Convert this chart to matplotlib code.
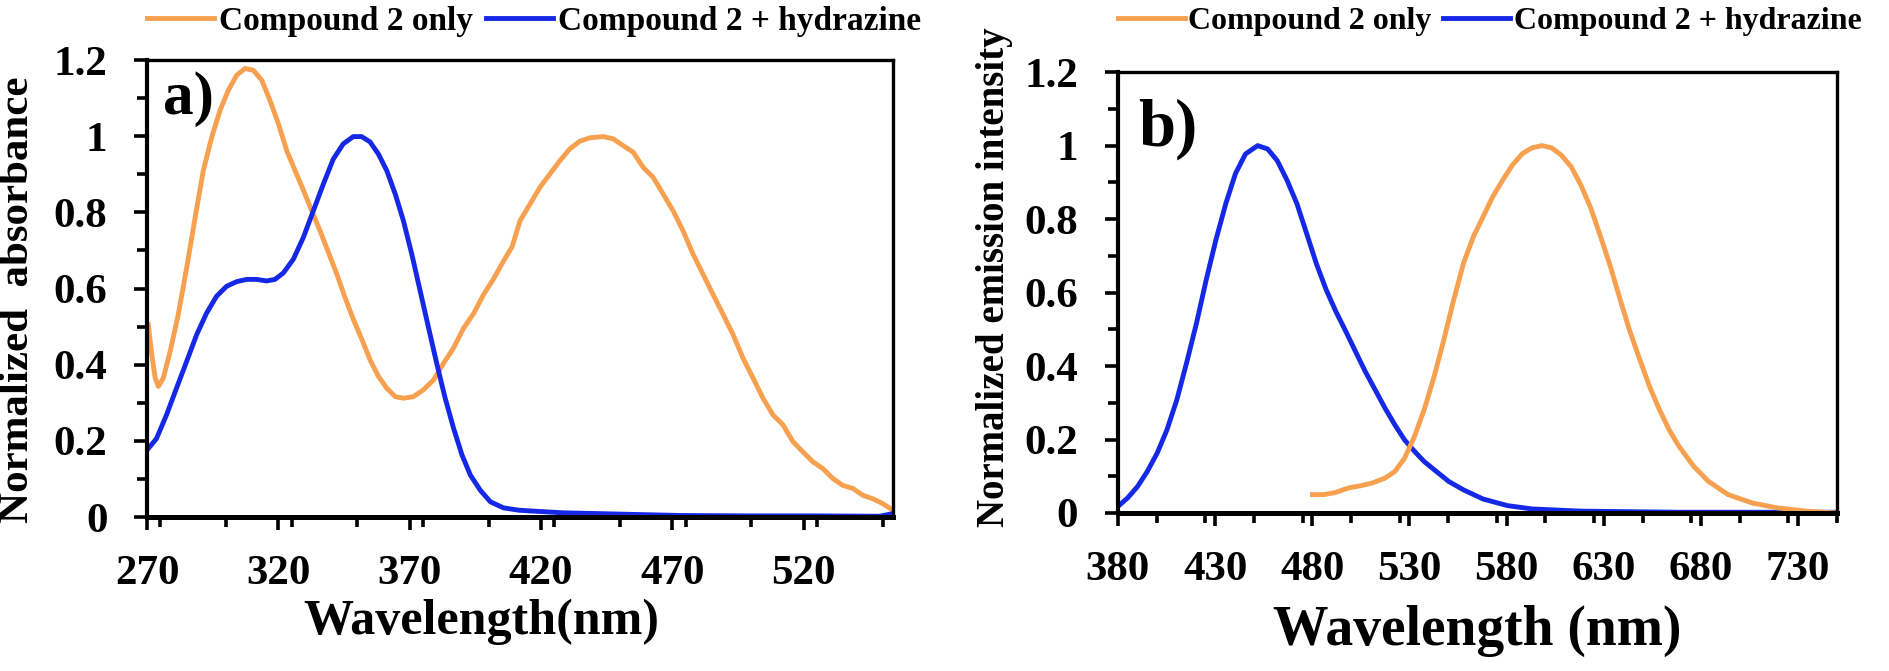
import matplotlib
matplotlib.use("Agg")
import matplotlib.pyplot as plt
from matplotlib.ticker import MultipleLocator, FuncFormatter

# a) absorbance spectra (values read off the figure)
abs_wl_only = [270.5, 271.8, 273.1, 274.3, 276.2, 278.8, 281.9, 285.1, 288.3, 291.4,
               294.6, 297.8, 300.9, 304.1, 307.3, 310.5, 313.7, 316.8, 320.0, 323.2,
               326.4, 329.6, 332.7, 335.9, 339.1, 342.3, 345.4, 348.6, 351.8, 354.9,
               358.1, 361.3, 364.5, 367.6, 371.4, 375.2, 379.1, 382.9, 386.7, 390.5,
               394.3, 398.1, 401.9, 405.7, 409.0, 412.0, 415.8, 419.6, 423.4, 427.2,
               431.0, 434.8, 438.6, 443.7, 447.5, 451.3, 455.1, 458.9, 462.7, 466.5,
               470.3, 474.1, 477.9, 481.7, 485.5, 489.3, 493.1, 496.9, 500.7, 504.5,
               508.3, 512.1, 515.9, 519.7, 523.5, 527.3, 531.1, 534.9, 538.7, 542.5,
               546.3, 550.1, 553.9]
abs_only = [0.505, 0.426, 0.365, 0.343, 0.365, 0.435, 0.532, 0.655, 0.786, 0.909,
            0.997, 1.068, 1.12, 1.16, 1.178, 1.173, 1.147, 1.094, 1.033, 0.962,
            0.909, 0.857, 0.804, 0.751, 0.694, 0.637, 0.576, 0.518, 0.466, 0.413,
            0.369, 0.338, 0.316, 0.312, 0.316, 0.334, 0.36, 0.404, 0.444, 0.496,
            0.534, 0.584, 0.625, 0.672, 0.71, 0.778, 0.822, 0.866, 0.901, 0.936,
            0.967, 0.987, 0.996, 0.999, 0.993, 0.975, 0.958, 0.918, 0.892, 0.848,
            0.804, 0.751, 0.69, 0.637, 0.584, 0.532, 0.479, 0.417, 0.365, 0.312,
            0.268, 0.242, 0.198, 0.171, 0.145, 0.127, 0.101, 0.083, 0.075, 0.057,
            0.048, 0.035, 0.018]
abs_wl_hyd = [270.5, 273.6, 277.4, 281.2, 285.1, 288.9, 292.7, 296.5, 300.3, 304.1,
              307.9, 311.7, 315.5, 318.7, 321.9, 325.7, 329.5, 333.3, 337.1, 340.9,
              344.7, 348.5, 351.7, 354.9, 358.1, 361.3, 364.5, 367.6, 370.8, 374.0,
              377.2, 380.4, 383.5, 386.7, 389.9, 393.1, 396.9, 400.7, 405.7, 411.4,
              415.8, 428.5, 447.5, 472.9, 498.3, 523.5, 549.0, 553.9]
abs_hyd = [0.18, 0.206, 0.268, 0.338, 0.409, 0.479, 0.536, 0.58, 0.606, 0.618,
           0.624, 0.624, 0.62, 0.624, 0.641, 0.677, 0.734, 0.804, 0.874, 0.94,
           0.98, 0.999, 0.999, 0.985, 0.953, 0.909, 0.848, 0.778, 0.69, 0.593,
           0.496, 0.4, 0.312, 0.233, 0.163, 0.11, 0.07, 0.04, 0.024, 0.018,
           0.016, 0.011, 0.008, 0.004, 0.003, 0.003, 0.002, 0.009]

# b) emission spectra
em_wl_only = [480.1, 485.9, 492.2, 498.5, 504.8, 511.1, 517.5, 522.5, 527.5, 532.6,
              537.6, 542.7, 547.7, 552.8, 557.8, 562.9, 567.9, 572.9, 578.0, 583.0,
              588.1, 593.1, 598.2, 603.2, 608.2, 613.3, 618.3, 623.4, 628.4, 633.5,
              638.5, 643.5, 648.6, 653.6, 658.7, 663.7, 668.8, 676.3, 683.9, 694.0,
              706.6, 719.2, 734.3, 750.0]
em_only = [0.05, 0.05, 0.056, 0.068, 0.074, 0.082, 0.095, 0.113, 0.149, 0.208,
           0.281, 0.371, 0.471, 0.58, 0.679, 0.752, 0.806, 0.861, 0.906, 0.947,
           0.978, 0.994, 1.0, 0.994, 0.974, 0.942, 0.892, 0.829, 0.752, 0.67,
           0.58, 0.494, 0.417, 0.344, 0.281, 0.226, 0.181, 0.127, 0.086, 0.05,
           0.027, 0.014, 0.005, 0.0]
em_wl_hyd = [380.0, 385.0, 390.1, 395.1, 400.2, 405.2, 410.3, 415.3, 420.4, 425.4,
             430.4, 435.5, 440.5, 445.6, 451.9, 457.0, 462.0, 467.0, 472.1, 477.1,
             482.1, 487.2, 492.2, 497.3, 502.3, 507.3, 512.4, 517.5, 522.5, 527.5,
             532.6, 537.6, 542.7, 550.2, 557.8, 567.9, 580.5, 593.1, 618.3, 668.8,
             750.0]
em_hyd = [0.018, 0.041, 0.072, 0.113, 0.163, 0.226, 0.308, 0.408, 0.516, 0.634,
          0.743, 0.842, 0.924, 0.977, 1.0, 0.991, 0.959, 0.906, 0.842, 0.761,
          0.679, 0.607, 0.548, 0.494, 0.439, 0.385, 0.335, 0.285, 0.24, 0.199,
          0.168, 0.14, 0.118, 0.086, 0.063, 0.038, 0.02, 0.011, 0.005, 0.002,
          0.002]

labels = ['Compound 2 only', 'Compound 2 + hydrazine']
orange = '#F7A04F'
blue = '#1428E6'
font = 'Liberation Serif'

plt.rcParams['font.family'] = font
plt.rcParams['font.weight'] = 'bold'

fig = plt.figure(figsize=(18.9, 6.71), dpi=100)
ax1 = fig.add_axes([0.0778, 0.2295, 0.3947, 0.681])
ax2 = fig.add_axes([0.5915, 0.2355, 0.3804, 0.657])


def style(ax, xmin, xmax):
    ax.set_xlim(xmin, xmax)
    ax.set_ylim(0, 1.2)
    ax.set_xticks(range(xmin, int(xmax) + 1, 50))
    ax.xaxis.set_minor_locator(MultipleLocator(25))
    ax.yaxis.set_major_locator(MultipleLocator(0.2))
    ax.yaxis.set_minor_locator(MultipleLocator(0.1))
    ax.yaxis.set_major_formatter(FuncFormatter(lambda v, p: '%g' % round(v, 2)))
    ax.tick_params(which='both', direction='out', width=2.6, labelsize=31)
    ax.tick_params(which='major', length=9.5)
    ax.tick_params(which='minor', length=7)
    ax.tick_params(axis='x', pad=18)
    ax.tick_params(axis='y', pad=19)
    for s in ['top', 'right']:
        ax.spines[s].set_linewidth(2.4)
    ax.spines['left'].set_linewidth(3.0)
    ax.spines['bottom'].set_linewidth(3.6)


l1, = ax1.plot(abs_wl_only, abs_only, color=orange, lw=3.5, label=labels[0])
l2, = ax1.plot(abs_wl_hyd, abs_hyd, color=blue, lw=3.5, label=labels[1])
style(ax1, 270, 554)
ax1.set_xlabel('Wavelength(nm)', fontsize=36, fontweight='bold', labelpad=4, x=0.448)
ax1.set_ylabel('Normalized  absorbance', fontsize=31, fontweight='bold', labelpad=12,
               y=0.475)
ax1.text(0.022, 0.975, 'a)', transform=ax1.transAxes, fontsize=44, fontweight='bold',
         va='top', ha='left')

ax2.plot(em_wl_hyd, em_hyd, color=blue, lw=3.5)
ax2.plot(em_wl_only, em_only, color=orange, lw=3.5)
style(ax2, 380, 750)
ax2.set_xlabel('Wavelength (nm)', fontsize=40, fontweight='bold', labelpad=11)
ax2.set_ylabel('Normalized emission intensity', fontsize=28, fontweight='bold',
               labelpad=8, y=0.535)
ax2.text(0.028, 0.94, 'b)', transform=ax2.transAxes, fontsize=48, fontweight='bold',
         va='top', ha='left')

# legends sit above each panel, starting at the left spine
fig.legend(handles=[l1, l2], loc='center left', bbox_to_anchor=(0.0778, 0.968),
           ncol=2, frameon=False, handlelength=2.0, handletextpad=0.15,
           columnspacing=0.4, borderpad=0, borderaxespad=0,
           prop={'family': font, 'weight': 'bold', 'size': 24})
fig.legend(handles=[l1, l2], loc='center left', bbox_to_anchor=(0.5915, 0.968),
           ncol=2, frameon=False, handlelength=2.1, handletextpad=0.1,
           columnspacing=0.37, borderpad=0, borderaxespad=0,
           prop={'family': font, 'weight': 'bold', 'size': 23})

fig.savefig('out.png', dpi=100)
